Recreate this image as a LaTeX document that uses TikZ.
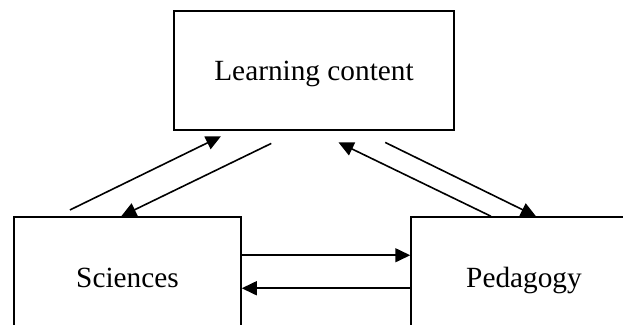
\documentclass[tikz,border=0pt]{standalone}
\usepackage{fontspec}
\setmainfont{Liberation Serif}
\usetikzlibrary{arrows.meta,calc}
\begin{document}
\begin{tikzpicture}[x=1pt,y=-1pt,
  box/.style={draw=black,line width=1.5pt,minimum width=#1,minimum height=124pt,inner sep=0pt,text depth=0pt,text height=17.4pt,font=\fontsize{29.3}{34}\selectfont},
  conn/.style={line width=1.6pt,-{Triangle[length=15pt,width=14pt]}}]
\useasboundingbox (0,0) rectangle (623,324);
\clip (0,0) rectangle (623,324);
\node[box=280pt,minimum height=119pt,text height=20.4pt] (lc) at (314,70.5) {Learning content};
\node[box=227pt] (sci) at (127.5,279) {Sciences};
\node[box=226pt] (ped) at (524,279) {Pedagogy};
% diagonal connectors
\coordinate (a1) at ($(sci.north west)+(56.7,-6.3)$);
\coordinate (a2) at ($(lc.south west)+(47.7,5.5)$);
\coordinate (b1) at ($(lc.south west)+(98,12.7)$);
\coordinate (b2) at ($(sci.north west)+(108,0)$);
\coordinate (c1) at ($(ped.north west)+(80.7,0)$);
\coordinate (c2) at ($(lc.south west)+(165.3,11.7)$);
\coordinate (d1) at ($(lc.south west)+(212,11.7)$);
\coordinate (d2) at ($(ped.north west)+(125.7,0)$);
\draw[conn] (a1) -- (a2);
\draw[conn] (b1) -- (b2);
\draw[conn] (c1) -- (c2);
\draw[conn] (d1) -- (d2);
% horizontal connectors
\draw[conn] ($(sci.north east)+(0,39)$) -- ($(ped.north west)+(0,39)$);
\draw[conn] ($(ped.north west)+(0,72)$) -- ($(sci.north east)+(0,72)$);
\end{tikzpicture}
\end{document}
